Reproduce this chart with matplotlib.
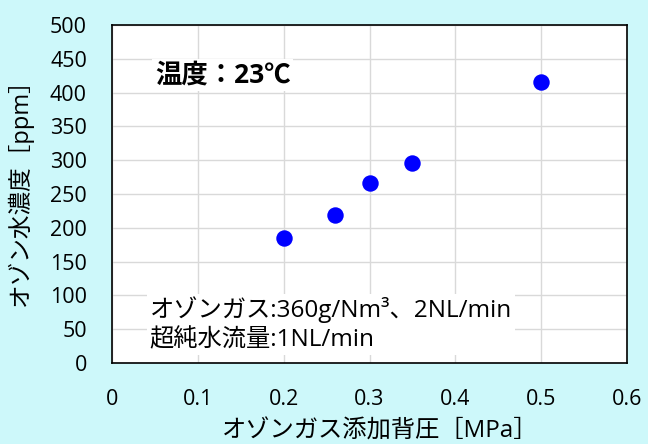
import matplotlib
matplotlib.use("Agg")
import matplotlib.pyplot as plt

plt.rcParams['font.family'] = ['Open Sans', 'Noto Sans CJK JP', 'DejaVu Sans']

pressure = [0.2, 0.26, 0.3, 0.35, 0.5]
ozone_ppm = [185, 219, 266, 296, 415]
x_ticks = [0, 0.1, 0.2, 0.3, 0.4, 0.5, 0.6]
x_tick_labels = ['0', '0.1', '0.2', '0.3', '0.4', '0.5', '0.6']
y_ticks = list(range(0, 501, 50))

bg = '#cdf8fa'
fig = plt.figure(figsize=(6.48, 4.44), dpi=100, facecolor=bg)
ax = fig.add_axes([112/648, 1 - 363/444, 515/648, 338/444])
ax.set_facecolor('white')

ax.scatter(pressure, ozone_ppm, s=140, color='#0000ff', zorder=3, linewidths=0)

ax.set_xlim(0, 0.6)
ax.set_ylim(0, 500)
ax.set_xticks(x_ticks)
ax.set_xticklabels(x_tick_labels)
ax.set_yticks(y_ticks)
ax.grid(True, color='#d9d9d9', linewidth=1.0)
ax.set_axisbelow(True)
ax.tick_params(axis='both', length=0, labelsize=15.5)
ax.tick_params(axis='y', pad=18)
ax.tick_params(axis='x', pad=19)
for s in ax.spines.values():
    s.set_color('black')
    s.set_linewidth(1.2)

fig.text(380/648, 1 - 432/444, 'オゾンガス添加背圧［MPa］', fontsize=17.5, ha='center', va='center')
fig.text(20/648, 1 - 186/444, 'オゾン水濃度［ppm］', fontsize=17, ha='center', va='center',
         rotation=90)

ax.text(0.05, 426, '温度：23℃', fontsize=19, fontweight='bold', ha='left', va='center',
        bbox=dict(facecolor='white', edgecolor='none', pad=2))
ax.text(0.044, 57, 'オゾンガス:360g/Nm³、2NL/min\n超純水流量:1NL/min', fontsize=17.5,
        ha='left', va='center', linespacing=1.3,
        bbox=dict(facecolor='white', edgecolor='none', pad=2))

fig.savefig('out.png', dpi=100, facecolor=bg)
